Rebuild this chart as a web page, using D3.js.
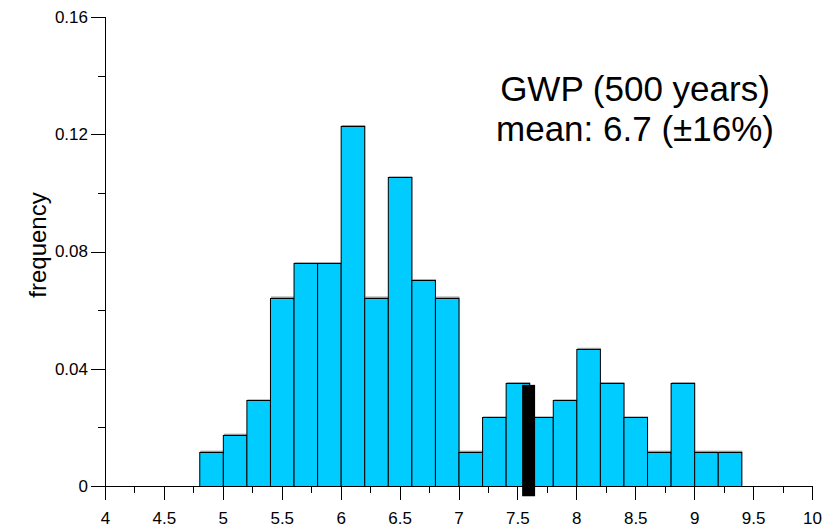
<!DOCTYPE html>
<html>
<head>
<meta charset="UTF-8">
<title>GWP (500 years) histogram</title>
<script src="https://cdn.jsdelivr.net/npm/d3@7"></script>
<style>
body { margin:0; background:#fff; }
text { font-family:"Liberation Sans", Arial, sans-serif; fill:#000; }
.axis path, .axis line { stroke:#000; shape-rendering:crispEdges; }
.axis text { font-size:17px; }
</style>
</head>
<body>
<div id="chart"></div>
<script>
// bin starts (width 0.2) and frequencies
var binStart = [4.8,5.0,5.2,5.4,5.6,5.8,6.0,6.2,6.4,6.6,6.8,7.0,7.2,7.4,7.6,7.8,8.0,8.2,8.4,8.6,8.8,9.0,9.2];
var binFreq  = [0.0117,0.0175,0.0292,0.0643,0.076,0.076,0.1228,0.0643,0.1053,0.0702,0.0643,0.0117,0.0234,0.0351,0.0234,0.0292,0.0468,0.0351,0.0234,0.0117,0.0351,0.0117,0.0117];
var binWidth = 0.2;
// black marker
var markerX = [7.54, 7.65];
var markerY = [-0.0035, 0.0345];
var xMajor = [4,4.5,5,5.5,6,6.5,7,7.5,8,8.5,9,9.5,10];
var yMajor = [0,0.04,0.08,0.12,0.16];
var yMinor = [0.02,0.06,0.1,0.14];
var titleLines = ["GWP (500 years)", "mean: 6.7 (\u00b116%)"];

var width = 823, height = 531;
var svg = d3.select("#chart").append("svg").attr("width", width).attr("height", height);

var x = d3.scaleLinear().domain([4,10]).range([105,812]);
var y = d3.scaleLinear().domain([0,0.16]).range([486,17]);

var data = binStart.map(function(s,i){ return {x0:s, x1:s+binWidth, f:binFreq[i]}; });

// faint shadow like the original
svg.selectAll(".shadow").data(data).enter().append("rect")
  .attr("class","shadow")
  .attr("x", function(d){ return x(d.x0)+1; })
  .attr("y", function(d){ return y(d.f)-1; })
  .attr("width", function(d){ return x(d.x1)-x(d.x0); })
  .attr("height", function(d){ return y(0)-y(d.f); })
  .attr("fill","#999");

svg.selectAll(".bar").data(data).enter().append("rect")
  .attr("class","bar")
  .attr("x", function(d){ return x(d.x0)+0.5; })
  .attr("y", function(d){ return Math.round(y(d.f))+0.5; })
  .attr("width", function(d){ return x(d.x1)-x(d.x0); })
  .attr("height", function(d){ return y(0)-Math.round(y(d.f)); })
  .attr("fill","#00ccff")
  .attr("stroke","#000")
  .attr("stroke-width",1);

// x axis: major + minor ticks
var gx = svg.append("g").attr("class","axis").attr("transform","translate(0,"+y(0)+")");
gx.call(d3.axisBottom(x).tickValues(d3.range(4,10.001,0.25)).tickSize(7).tickFormat(""));
gx.select(".domain").remove();
var gx2 = svg.append("g").attr("class","axis").attr("transform","translate(0,"+y(0)+")");
gx2.call(d3.axisBottom(x).tickValues(xMajor).tickSize(14).tickPadding(12).tickFormat(d3.format("")));
gx2.select(".domain").remove();
svg.append("line").attr("x1", x(4)-14).attr("x2", x(10)).attr("y1", y(0)+0.5).attr("y2", y(0)+0.5)
  .attr("stroke","#000");

// y axis
var gy = svg.append("g").attr("class","axis").attr("transform","translate("+x(4)+",0)");
gy.call(d3.axisLeft(y).tickValues(yMinor).tickSize(7).tickFormat(""));
gy.select(".domain").remove();
var gy2 = svg.append("g").attr("class","axis").attr("transform","translate("+x(4)+",0)");
gy2.call(d3.axisLeft(y).tickValues(yMajor).tickSize(14).tickPadding(3).tickFormat(function(d){ return d===0 ? "0" : d3.format(".2f")(d); }));
gy2.select(".domain").remove();
svg.append("line").attr("x1", x(4)+0.5).attr("x2", x(4)+0.5).attr("y1", y(0.16)).attr("y2", y(0)+14)
  .attr("stroke","#000");

// marker bar
svg.append("rect")
  .attr("x", x(markerX[0])).attr("width", x(markerX[1])-x(markerX[0]))
  .attr("y", y(markerY[1])).attr("height", y(markerY[0])-y(markerY[1]))
  .attr("fill","#000");

// labels
svg.append("text")
  .attr("transform","translate(46,245) rotate(-90)")
  .attr("text-anchor","middle")
  .style("font-size","24px")
  .text("frequency");

svg.selectAll(".title").data(titleLines).enter().append("text")
  .attr("class","title")
  .attr("x", 635)
  .attr("y", function(d,i){ return 101 + i*40; })
  .attr("text-anchor","middle")
  .style("font-size","35px")
  .text(function(d){ return d; });
</script>
</body>
</html>
